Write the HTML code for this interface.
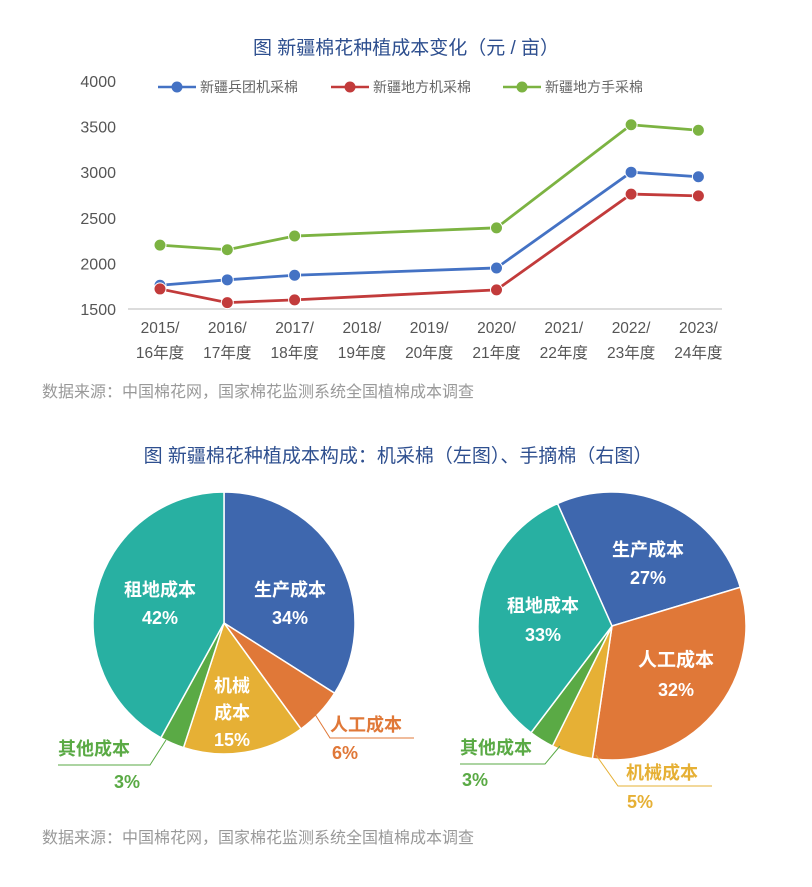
<!DOCTYPE html>
<html><head><meta charset="utf-8">
<style>
html,body{margin:0;padding:0;background:#fff;}
body{width:812px;height:882px;overflow:hidden;font-family:"Liberation Sans","Noto Sans CJK SC",sans-serif;}
svg text{font-family:"Liberation Sans","Noto Sans CJK SC",sans-serif;}
</style></head>
<body>
<svg id="c" width="812" height="882">
<text x="406" y="54" text-anchor="middle" font-size="19" fill="#2e4f8f">图 新疆棉花种植成本变化（元 / 亩）</text>
<g id="legend"></g>
<g id="axes"></g>
<g id="lines"></g>
<text x="42" y="397" font-size="16" fill="#999">数据来源：中国棉花网，国家棉花监测系统全国植棉成本调查</text>
<text x="398" y="462" text-anchor="middle" font-size="19" fill="#2e4f8f">图 新疆棉花种植成本构成：机采棉（左图）、手摘棉（右图）</text>
<g id="pies"></g>
<text x="42" y="843" font-size="16" fill="#999">数据来源：中国棉花网，国家棉花监测系统全国植棉成本调查</text>
</svg>
<script>
const categories=["2015/|16年度","2016/|17年度","2017/|18年度","2018/|19年度","2019/|20年度","2020/|21年度","2021/|22年度","2022/|23年度","2023/|24年度"];
const seriesNames=["新疆兵团机采棉","新疆地方机采棉","新疆地方手采棉"];
const bingtuan=[1760,1820,1870,null,null,1950,null,3000,2950];
const difangJi=[1720,1570,1600,null,null,1710,null,2760,2740];
const difangShou=[2200,2150,2300,null,null,2390,null,3520,3460];
const yTicks=[1500,2000,2500,3000,3500,4000];
const pieLabels=["生产成本","人工成本","机械成本","其他成本","租地成本"];
const machineShares=[34,6,15,3,42];
const handShares=[27,32,5,3,33];

const NS="http://www.w3.org/2000/svg";
function mk(t,a,p){const e=document.createElementNS(NS,t);for(const k in a)e.setAttribute(k,a[k]);p.appendChild(e);return e;}
const yMin=1500,yMax=4000,y0=309,y1=81;
const yS=v=>y0-(v-yMin)/(yMax-yMin)*(y0-y1);
const xS=i=>160+i*67.3;
const colors=["#4472c4","#c23b3b","#7cb342"];
const ax=document.getElementById('axes');
const axl=mk('line',{x1:128,x2:722,y1:y0,y2:y0,stroke:'#d0d0d0','stroke-width':1.5},ax);


yTicks.forEach(v=>{const t=mk('text',{x:116,y:yS(v)+6,'text-anchor':'end','font-size':16,fill:'#555'},ax);t.textContent=v;

});
categories.forEach((c,i)=>{const p=c.split('|');
const t=mk('text',{x:xS(i),y:333,'text-anchor':'middle','font-size':15.5,fill:'#555'},ax);t.textContent=p[0];


const t2=mk('text',{x:xS(i),y:358,'text-anchor':'middle','font-size':15.5,fill:'#555'},ax);t2.textContent=p[1];

});
const lg=document.getElementById('legend');
const lx=[158,331,503];
seriesNames.forEach((n,i)=>{
const g=mk('g',{},lg);


mk('line',{x1:lx[i],x2:lx[i]+38,y1:87,y2:87,stroke:colors[i],'stroke-width':2.5},g);
mk('circle',{cx:lx[i]+19,cy:87,r:5.5,fill:colors[i]},g);
const t=mk('text',{x:lx[i]+42,y:92,'font-size':14,fill:'#666'},g);t.textContent=n;});
const ln=document.getElementById('lines');
[bingtuan,difangJi,difangShou].forEach((s,si)=>{
const pts=[];s.forEach((v,i)=>{if(v!==null)pts.push([xS(i),yS(v)]);});
const pl=mk('polyline',{points:pts.map(p=>p.join(',')).join(' '),fill:'none',stroke:colors[si],'stroke-width':2.8},ln);


pts.forEach(p=>{const c=mk('circle',{cx:p[0],cy:p[1],r:6,fill:colors[si],stroke:'#fff','stroke-width':1},ln);

});});

const sliceColors=["#3e67ae","#e07838","#e6b035","#5aaa45","#28b0a2"];
const pg=document.getElementById('pies');
function pie(cx,cy,r,start,shares,name){
const g=mk('g',{},pg);


const tot=shares.reduce((a,b)=>a+b,0);let a=start;
shares.forEach((s,i)=>{const b=a+s/tot*360;
const P=d=>[cx+r*Math.sin(d*Math.PI/180),cy-r*Math.cos(d*Math.PI/180)];
const p1=P(a),p2=P(b);
const path=mk('path',{d:`M${cx},${cy}L${p1[0]},${p1[1]}A${r},${r} 0 ${b-a>180?1:0} 1 ${p2[0]},${p2[1]}Z`,fill:sliceColors[i],stroke:'#fff','stroke-width':1.5},g);


a=b;});}
pie(224,623,131,0,machineShares,'pie-machine');
pie(612,626,134,-24,handShares,'pie-hand');
function lab(x,y,txt,col,size,anchor){const t=mk('text',{x:x,y:y,'text-anchor':anchor||'middle','font-size':size||18,'font-weight':600,fill:col},pg);t.textContent=txt;

}
function lead(pts,col){const l=mk('polyline',{points:pts,fill:'none',stroke:col,'stroke-width':1},pg);

}
// left pie
lab(290,596,pieLabels[0],'#fff');lab(290,624,machineShares[0]+'%','#fff');
lab(160,596,pieLabels[4],'#fff');lab(160,624,machineShares[4]+'%','#fff');
lab(232,692,'机械','#fff');lab(232,719,'成本','#fff');lab(232,746,machineShares[2]+'%','#fff');
lab(330,731,pieLabels[1],'#e07838',18,'start');lab(345,759,machineShares[1]+'%','#e07838');
lead('306,700 330,738 414,738','#e07838');
lab(58,755,pieLabels[3],'#5aaa45',18,'start');lab(127,788,machineShares[3]+'%','#5aaa45');
lead('166,740 150,765 58,765','#5aaa45');
// right pie
lab(648,556,pieLabels[0],'#fff');lab(648,584,handShares[0]+'%','#fff');
lab(676,666,pieLabels[1],'#fff',19);lab(676,696,handShares[1]+'%','#fff');
lab(543,612,pieLabels[4],'#fff');lab(543,641,handShares[4]+'%','#fff');
lab(460,754,pieLabels[3],'#5aaa45',18,'start');lab(475,786,handShares[3]+'%','#5aaa45');
lead('560,746 545,764 460,764','#5aaa45');
lab(626,779,pieLabels[2],'#e6b035',18,'start');lab(640,808,handShares[2]+'%','#e6b035');
lead('596,755 618,786 712,786','#e6b035');
</script>
</body></html>
